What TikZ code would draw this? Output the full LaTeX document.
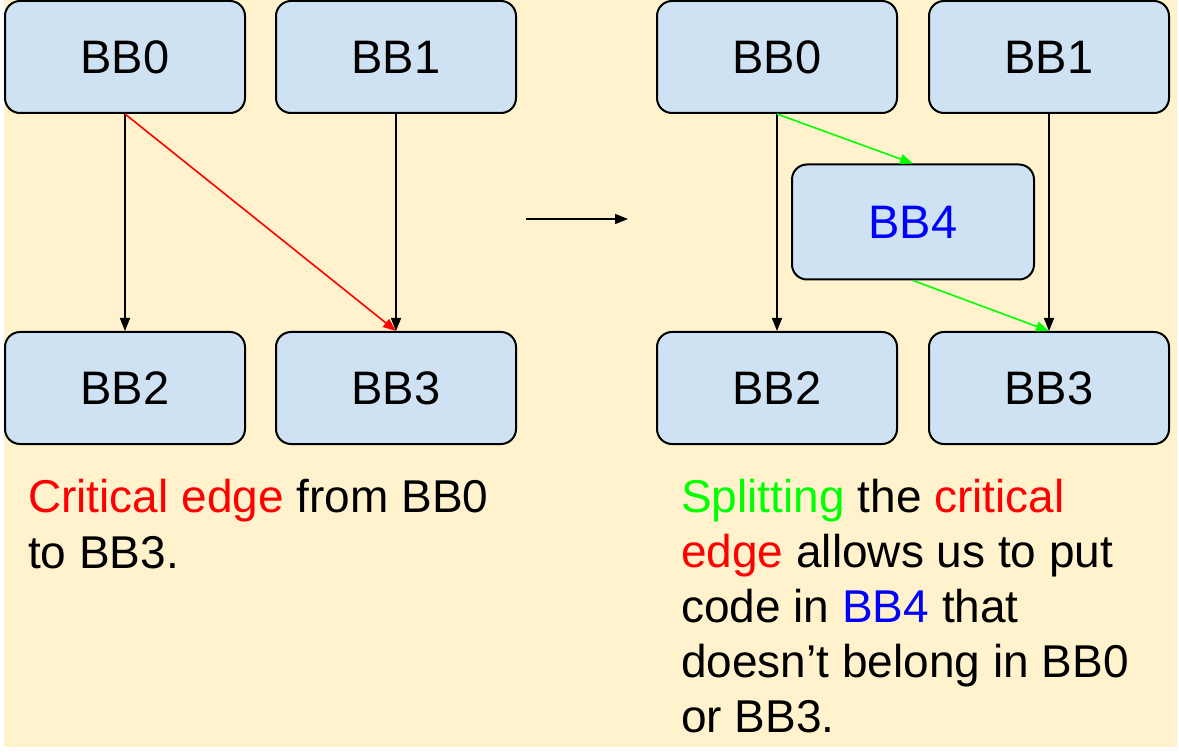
\documentclass[tikz,border=0pt]{standalone}
\usepackage{fontspec}
\setmainfont{Liberation Sans}
\usetikzlibrary{arrows.meta}
\definecolor{bgyellow}{HTML}{FFF2CC}
\definecolor{bbblue}{HTML}{CFE2F3}
\definecolor{edgegreen}{HTML}{00FF00}
\definecolor{edgered}{HTML}{FF0000}
\definecolor{bbfour}{HTML}{0000FF}

\begin{document}
\begin{tikzpicture}[x=1pt,y=-1pt,
    bb/.style={draw, line width=2pt, rounded corners=15pt, fill=bbblue,
      minimum width=240pt, minimum height=112pt, inner sep=0pt,
      font=\fontsize{47}{56}\selectfont},
    cfg/.style={line width=1.6pt, -{Triangle[length=13pt,width=10pt]}},
    note/.style={anchor=north west, align=left, inner sep=0pt}]
  \useasboundingbox (0,0) rectangle (1179,754);
  \fill[bgyellow] (4,0) rectangle (1177,747);
  % before
  \node[bb] (a0) at (125,57) {BB0};
  \node[bb] (a1) at (396,57) {BB1};
  \node[bb] (a2) at (125,388) {BB2};
  \node[bb] (a3) at (396,388) {BB3};
  \draw[cfg] (a0.south) -- (a2.north);
  \draw[cfg] (a1.south) -- (a3.north);
  \draw[cfg, edgered] (a0.south) -- (a3.north);
  \node[note, font=\fontsize{46}{56}\selectfont] (txtA) at (28,479)
    {\textcolor{edgered}{Critical edge} from BB0\\to BB3.};
  % arrow between the two halves
  \coordinate (m1) at (526,219);
  \coordinate (m2) at (628,219);
  \draw[cfg] (m1) -- (m2);
  % after
  \node[bb] (b0) at (777,57) {BB0};
  \node[bb] (b1) at (1049,57) {BB1};
  \node[bb] (b2) at (777,388) {BB2};
  \node[bb] (b3) at (1049,388) {BB3};
  \node[bb, minimum width=242pt, minimum height=115pt, text=bbfour] (b4) at (913,222) {BB4};
  \draw[cfg] (b0.south) -- (b2.north);
  \draw[cfg] (b1.south) -- (b3.north);
  \draw[cfg, edgegreen] (b0.south) -- (b4.north);
  \draw[cfg, edgegreen] (b4.south) -- (b3.north);
  \node[note, font=\fontsize{46}{55}\selectfont] (txtB) at (681,479)
    {\textcolor{edgegreen}{Splitting} the \textcolor{edgered}{critical}\\
     \textcolor{edgered}{edge} allows us to put\\
     code in \textcolor{bbfour}{BB4} that\\
     doesn’t belong in BB0\\
     or BB3.};
\end{tikzpicture}
\end{document}
